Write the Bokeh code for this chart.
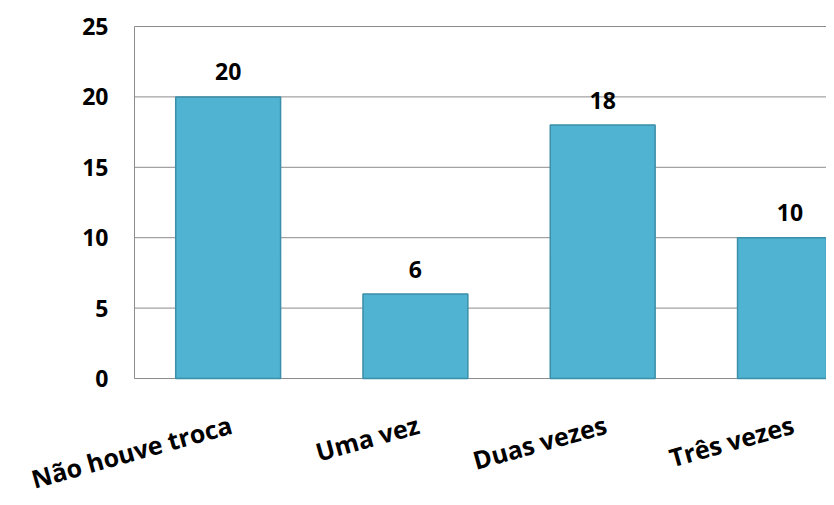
from bokeh.plotting import figure
from bokeh.models import ColumnDataSource, Range1d
from bokeh.core.properties import value
from bokeh.embed import file_html
from bokeh.resources import INLINE

categories = ["Não houve troca", "Uma vez", "Duas vezes", "Três vezes"]
counts = [20, 6, 18, 10]
y_ticks = [0, 5, 10, 15, 20, 25]

# layout constants (pixels)
W, H = 826, 497
LEFT, TOP, BOTTOM = 134, 26, 378
PX_X = 187.28           # pixels per category
Y_MAX = 25
PX_Y = (BOTTOM - TOP) / Y_MAX
X0 = -0.5               # left edge of plotting area in category units

xs = list(range(len(categories)))
src = ColumnDataSource(dict(x=xs, y=counts, label=[str(v) for v in counts]))
cat_src = ColumnDataSource(dict(x=xs, y=[0] * len(xs), label=categories))
tick_src = ColumnDataSource(dict(x=[X0] * len(y_ticks), y=y_ticks,
                                 label=[str(t) for t in y_ticks]))

x_start = X0 - LEFT / PX_X
x_end = x_start + W / PX_X
y_end = Y_MAX + TOP / PX_Y
y_start = -(H - BOTTOM) / PX_Y

p = figure(width=W, height=H, output_backend="svg", toolbar_location=None,
           x_range=Range1d(x_start, x_end), y_range=Range1d(y_start, y_end),
           x_axis_location=None, y_axis_location=None)
p.min_border_left = 0
p.min_border_right = 0
p.min_border_top = 0
p.min_border_bottom = 0
p.outline_line_color = None
p.grid.visible = False
p.background_fill_color = "white"
p.border_fill_color = "white"

# horizontal gridlines (the one at 0 is the category axis line)
p.segment(x0=X0, x1=x_end, y0="y", y1="y", source=tick_src,
          line_color="#8C8C8C", line_width=1)
# value axis line
p.segment(x0=[X0], x1=[X0], y0=[0], y1=[Y_MAX], line_color="#8C8C8C",
          line_width=1)

p.vbar(x="x", top="y", width=0.56, source=src, fill_color="#4FB3D1",
       line_color="#3B8FA8", line_width=1.5)

# value labels above bars
p.text(x="x", y="y", text="label", source=src, text_align="center",
       text_baseline="alphabetic", y_offset=-25, text_font=value("Open Sans"),
       text_font_style="bold", text_font_size="23px", text_color="black")

# value axis tick labels
p.text(x="x", y="y", text="label", source=tick_src, text_align="right",
       text_baseline="middle", x_offset=-26, text_font=value("Open Sans"),
       text_font_style="bold", text_font_size="23px", text_color="black")

# category labels, rotated, right end anchored at each category
p.text(x="x", y="y", text="label", source=cat_src, text_align="right",
       text_baseline="alphabetic", x_offset=3, y_offset=45, angle=0.272,
       text_font=value("Open Sans"), text_font_style="bold",
       text_font_size="25px", text_color="black")

open("out.html", "w").write(file_html(p, INLINE))
